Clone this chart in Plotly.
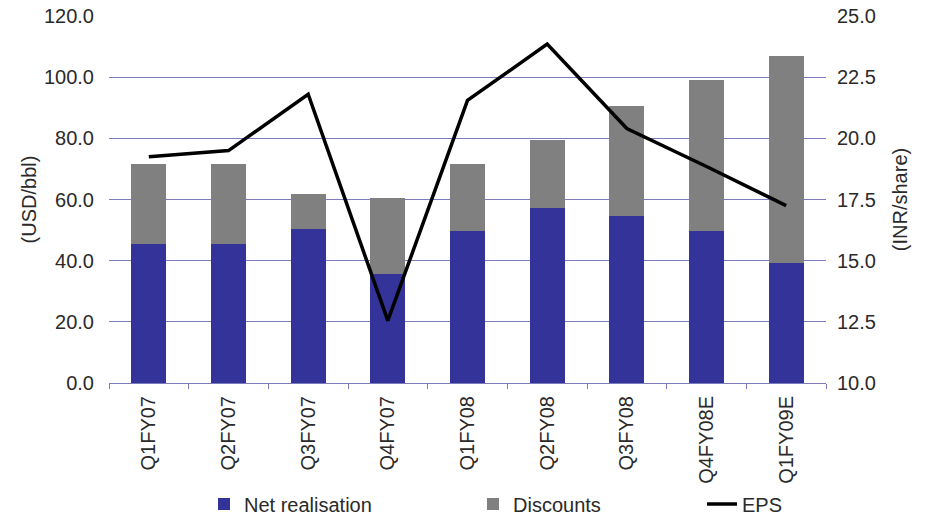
import plotly.graph_objects as go

categories = ["Q1FY07", "Q2FY07", "Q3FY07", "Q4FY07", "Q1FY08", "Q2FY08", "Q3FY08", "Q4FY08E", "Q1FY09E"]
net_realisation = [45.5, 45.5, 50.5, 35.5, 49.7, 57.2, 54.5, 49.6, 39.2]
totals = [71.6, 71.6, 61.8, 60.4, 71.6, 79.4, 90.6, 99.2, 106.9]
discounts = [t - n for t, n in zip(totals, net_realisation)]
eps = [19.25, 19.5, 21.8, 12.55, 21.55, 23.85, 20.4, 18.85, 17.25]

BLUE = "#343399"
GREY = "#808080"
GRID = "#7b7bbd"
TXT = "#2a2a2a"
FONT = "Liberation Sans, Arial, sans-serif"
FS = 20

fig = go.Figure()
fig.add_trace(go.Bar(x=categories, y=net_realisation, name="Net realisation", legend="legend",
                     marker=dict(color=BLUE, line=dict(width=0))))
fig.add_trace(go.Bar(x=categories, y=discounts, name="Discounts", legend="legend2",
                     marker=dict(color=GREY, line=dict(width=0))))
fig.add_trace(go.Scatter(x=categories, y=eps, name="EPS", yaxis="y2", mode="lines", legend="legend3",
                         line=dict(color="black", width=3.5)))

def leg(xpx):
    return dict(orientation="h", xref="container", yref="container",
                x=xpx / 930, xanchor="left", y=1 - 504 / 518, yanchor="middle",
                bgcolor="white", font=dict(size=FS, color=TXT, family=FONT))

fig.update_layout(
    width=930, height=518,
    margin=dict(l=109, r=104, t=16, b=135),
    barmode="stack", bargap=0.56,
    plot_bgcolor="white", paper_bgcolor="white",
    font=dict(family=FONT, size=FS, color=TXT),
    showlegend=True,
    legend=leg(204), legend2=leg(473), legend3=leg(702),
    xaxis=dict(type="category", showgrid=False, showline=True, linecolor=GRID, linewidth=1,
               ticks="outside", tickson="boundaries", ticklen=5, tickcolor=GRID,
               tickangle=-90, tickfont=dict(size=FS, color=TXT), automargin=False,
               ticklabelstandoff=4),
    yaxis=dict(range=[0, 120], dtick=20, tickformat=".1f", showgrid=True, gridcolor=GRID,
               gridwidth=1, zeroline=False, showline=False, ticks="", automargin=False,
               ticklabelstandoff=14,
               title=dict(text="(USD/bbl)", font=dict(size=FS, color=TXT), standoff=1)),
    yaxis2=dict(range=[10, 25], dtick=2.5, tickformat=".1f", overlaying="y", side="right",
                showgrid=False, zeroline=False, showline=False, ticks="", automargin=False,
                ticklabelstandoff=10,
                title=dict(text="(INR/share)", font=dict(size=FS, color=TXT), standoff=18)),
)

fig.write_html("out.html")
